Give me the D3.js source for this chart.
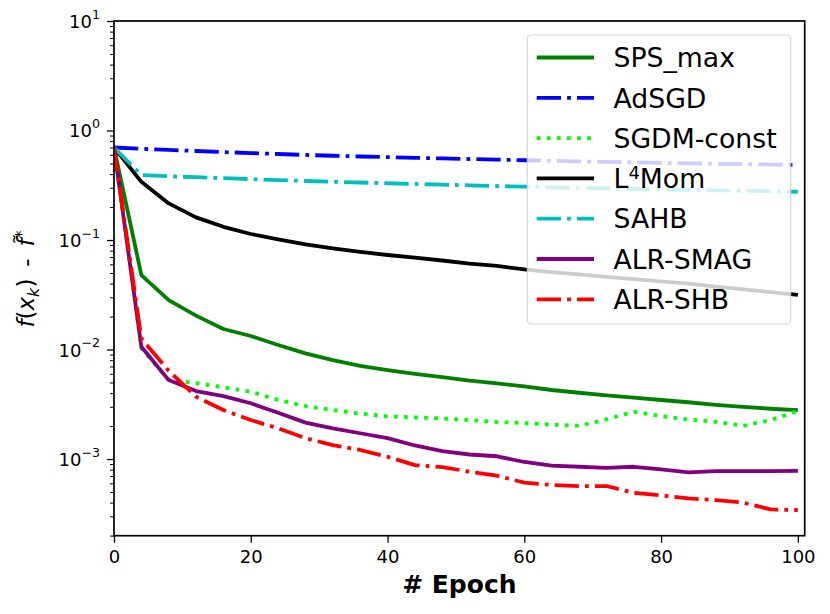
<!DOCTYPE html>
<html>
<head>
<meta charset="utf-8">
<script src="https://cdn.jsdelivr.net/npm/d3@7.9.0/dist/d3.min.js"></script>
<style>
  body { margin: 0; background: #fff; }
  svg { display: block; }
  text { font-family: "DejaVu Sans", sans-serif; fill: #000; }
</style>
</head>
<body>
<svg id="chart" width="830" height="614"></svg>
<script>
// values, one point every 4 epochs
const epochs = [0, 4, 8, 12, 16, 20, 24, 28, 32, 36, 40, 44, 48, 52, 56, 60, 64, 68, 72, 76, 80, 84, 88, 92, 96, 100];

const spsMax = [0.70, 0.0479, 0.0283, 0.0204, 0.0154, 0.0133, 0.0110, 0.00923, 0.0080, 0.0071, 0.0065, 0.0060, 0.0056,
  0.0052, 0.0049, 0.0046, 0.00427, 0.00403, 0.00382, 0.00363, 0.00346, 0.0033, 0.00313, 0.0030, 0.00288, 0.0028];
const adSGD = [0.70, 0.68, 0.665, 0.65, 0.635, 0.622, 0.61, 0.598, 0.588, 0.579, 0.571, 0.563, 0.556,
  0.549, 0.542, 0.535, 0.529, 0.523, 0.517, 0.512, 0.507, 0.502, 0.497, 0.493, 0.489, 0.485];
const sgdmConst = [0.70, 0.0102, 0.00526, 0.00494, 0.00452, 0.00412, 0.00346, 0.00305, 0.0028, 0.0026, 0.00245, 0.0024, 0.00235,
  0.00227, 0.00218, 0.00213, 0.00206, 0.00201, 0.0023, 0.0027, 0.00247, 0.0023, 0.00219, 0.00201, 0.00227, 0.00274];
const l4Mom = [0.70, 0.34, 0.216, 0.161, 0.132, 0.1135, 0.1014, 0.0912, 0.0839, 0.078, 0.073, 0.069, 0.065,
  0.061, 0.058, 0.054, 0.051, 0.0485, 0.046, 0.044, 0.042, 0.040, 0.0375, 0.0355, 0.0335, 0.0315];
const sahb = [0.70, 0.392, 0.382, 0.375, 0.368, 0.36, 0.353, 0.346, 0.34, 0.335, 0.33, 0.325, 0.32,
  0.316, 0.311, 0.307, 0.303, 0.299, 0.296, 0.293, 0.29, 0.287, 0.284, 0.281, 0.279, 0.276];
const alrSMAG = [0.70, 0.0106, 0.00526, 0.00418, 0.00376, 0.00323, 0.00265, 0.00215, 0.00191, 0.00172, 0.00155, 0.00133, 0.00118,
  0.0011, 0.00106, 0.00094, 0.00087, 0.00085, 0.00083, 0.00085, 0.000805, 0.000755, 0.000775, 0.000775, 0.000775, 0.00078];
const alrSHB = [0.70, 0.0126, 0.0064, 0.0037, 0.0028, 0.00227, 0.00191, 0.00155, 0.00134, 0.00121, 0.00105, 0.00088, 0.000845,
  0.000766, 0.000704, 0.000608, 0.00058, 0.000567, 0.000567, 0.000492, 0.000466, 0.000437, 0.000422, 0.0004, 0.000347, 0.000342];

const seriesLabels = ['SPS_max', 'AdSGD', 'SGDM-const', 'L4Mom', 'SAHB', 'ALR-SMAG', 'ALR-SHB'];
const seriesValues = [spsMax, adSGD, sgdmConst, l4Mom, sahb, alrSMAG, alrSHB];
const seriesColors = ['#008000', '#0000ff', '#00ff00', '#000000', '#00bfbf', '#800080', '#ff0000'];
const seriesStyles = ['solid', 'dashdot', 'dotted', 'solid', 'dashdot', 'solid', 'dashdot'];

const xTicks = [0, 20, 40, 60, 80, 100];
const yTicks = [1e-3, 1e-2, 1e-1, 1, 10];
const yExponents = ['\u22123', '\u22122', '\u22121', '0', '1'];

const svg = d3.select('#chart');
const plotL = 114, plotR = 804.7, plotT = 21, plotB = 535.7;
const lw = 3.8;

const x = d3.scaleLinear().domain([0, 101]).range([plotL, plotR]);
const y = d3.scaleLog().domain([Math.pow(10, -3.7), 10]).range([plotB, plotT]);

const dashes = {
  solid: null,
  dashdot: [6.4 * lw, 1.6 * lw, lw, 1.6 * lw].join(','),
  dotted: [lw, 1.65 * lw].join(','),
};

svg.append('defs').append('clipPath').attr('id', 'plot-clip')
  .append('rect').attr('x', plotL).attr('y', plotT).attr('width', plotR - plotL).attr('height', plotB - plotT);

// lines
const line = d3.line().x((d, i) => x(epochs[i])).y((d) => y(d));
const linesG = svg.append('g').attr('clip-path', 'url(#plot-clip)');
seriesValues.forEach((vals, i) => {
  linesG.append('path')
    .attr('d', line(vals))
    .attr('fill', 'none')
    .attr('stroke', seriesColors[i])
    .attr('stroke-width', lw)
    .attr('stroke-linejoin', 'round')
    .attr('stroke-linecap', 'butt')
    .attr('stroke-dasharray', dashes[seriesStyles[i]]);
});

// x axis
const xAxis = svg.append('g')
  .attr('transform', `translate(0,${plotB})`)
  .call(d3.axisBottom(x).tickValues(xTicks).tickSize(7).tickPadding(8).tickFormat(d3.format('d')));
xAxis.select('.domain').remove();
xAxis.selectAll('line').attr('stroke', '#000').attr('stroke-width', 1.3);
xAxis.selectAll('text').attr('font-size', 18).attr('font-family', '"DejaVu Sans", sans-serif');

// y axis minor ticks
const minor = [];
for (let e = -4; e <= 0; e++) {
  for (let m = 2; m <= 9; m++) {
    const v = m * Math.pow(10, e);
    if (v >= Math.pow(10, -3.7) && v <= 10) minor.push(v);
  }
}
const yMinor = svg.append('g')
  .attr('transform', `translate(${plotL},0)`)
  .call(d3.axisLeft(y).tickValues(minor).tickSize(4).tickFormat(''));
yMinor.select('.domain').remove();
yMinor.selectAll('line').attr('stroke', '#000').attr('stroke-width', 1);

// y axis major ticks
const yAxis = svg.append('g')
  .attr('transform', `translate(${plotL},0)`)
  .call(d3.axisLeft(y).tickValues(yTicks).tickSize(7).tickPadding(7).tickFormat(''));
yAxis.select('.domain').remove();
yAxis.selectAll('line').attr('stroke', '#000').attr('stroke-width', 1.3);
yAxis.selectAll('.tick text').each(function (d, i) {
  const t = d3.select(this).attr('font-size', 18).attr('dy', '0.36em').text('10');
  t.append('tspan').attr('font-size', 12.6).attr('dy', '-0.75em').text(yExponents[i]);
});

// spines
svg.append('rect')
  .attr('x', plotL).attr('y', plotT)
  .attr('width', plotR - plotL).attr('height', plotB - plotT)
  .attr('fill', 'none').attr('stroke', '#000').attr('stroke-width', 1.7);

// axis labels
svg.append('text')
  .attr('x', (plotL + plotR) / 2).attr('y', 593)
  .attr('text-anchor', 'middle')
  .attr('font-size', 25).attr('font-weight', 'bold')
  .text('# Epoch');

const yl = svg.append('text')
  .attr('transform', `translate(34,279) rotate(-90)`)
  .attr('text-anchor', 'middle')
  .attr('font-size', 23);
yl.append('tspan').attr('font-style', 'italic').text('f');
yl.append('tspan').text('(');
yl.append('tspan').attr('font-style', 'italic').text('x');
yl.append('tspan').attr('font-style', 'italic').attr('font-size', 16).attr('dy', '0.3em').text('k');
yl.append('tspan').attr('dy', '-0.2em').text(')');
yl.append('tspan').text('\u2009 - \u2009');
yl.append('tspan').attr('font-style', 'italic').text('f\u0303');
yl.append('tspan').attr('font-size', 16).attr('dy', '-0.45em').text('*');

// legend
const legend = svg.append('g');
legend.append('rect')
  .attr('x', 527.3).attr('y', 35)
  .attr('width', 263.4).attr('height', 289)
  .attr('rx', 4)
  .attr('fill', '#fff').attr('fill-opacity', 0.8)
  .attr('stroke', '#cccccc').attr('stroke-opacity', 0.8).attr('stroke-width', 1.2);

seriesLabels.forEach((label, i) => {
  const cy = 57.5 + i * 40.3;
  legend.append('line')
    .attr('x1', 536.7).attr('x2', 594)
    .attr('y1', cy).attr('y2', cy)
    .attr('stroke', seriesColors[i])
    .attr('stroke-width', lw)
    .attr('stroke-dasharray', dashes[seriesStyles[i]]);
  const t = legend.append('text')
    .attr('x', 613.5).attr('y', cy + 9.7)
    .attr('font-size', 26.7);
  if (label === 'L4Mom') {
    t.append('tspan').text('L');
    t.append('tspan').attr('font-size', 18).attr('dy', -9.5).text('4');
    t.append('tspan').attr('dy', 9.5).text('Mom');
  } else {
    t.text(label);
  }
});
</script>
</body>
</html>
